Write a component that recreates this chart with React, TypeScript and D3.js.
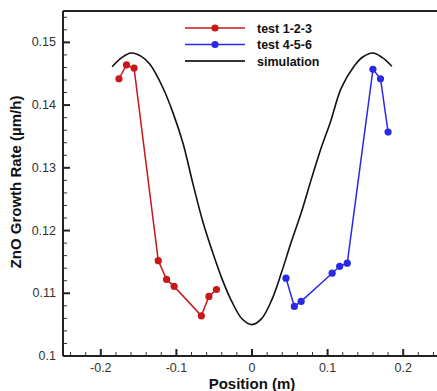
import * as d3 from "d3";

const width = 437;
const height = 391;
const margin = { left: 63, top: 11, right: -4, bottom: 35 };

// test 1-2-3 (red)
const redX = [-0.176, -0.166, -0.156, -0.124, -0.113, -0.103, -0.067, -0.057, -0.047];
const redY = [0.1442, 0.1464, 0.1459, 0.1152, 0.1122, 0.1111, 0.1064, 0.1095, 0.1106];

// test 4-5-6 (blue)
const blueX = [0.045, 0.056, 0.065, 0.106, 0.116, 0.126, 0.160, 0.170, 0.180];
const blueY = [0.1124, 0.1079, 0.1087, 0.1132, 0.1143, 0.1148, 0.1457, 0.1442, 0.1357];

// simulation (black)
const simX = [-0.185, -0.172, -0.16, -0.147, -0.135, -0.118, -0.104, -0.091, -0.078, -0.065, -0.052, -0.039, -0.026, -0.013, 0,
  0.013, 0.026, 0.039, 0.052, 0.065, 0.078, 0.091, 0.104, 0.118, 0.135, 0.147, 0.16, 0.172, 0.185];
const simY = [0.1461, 0.1476, 0.1483, 0.1478, 0.1465, 0.1428, 0.1386, 0.1338, 0.1274, 0.1214, 0.1165, 0.1121, 0.1085, 0.1059, 0.1050,
  0.1060, 0.1089, 0.1133, 0.1182, 0.1228, 0.128, 0.133, 0.1374, 0.1427, 0.1462, 0.1477, 0.1483, 0.1476, 0.1462];

const xTicks = [-0.2, -0.1, 0, 0.1, 0.2];
const xTickLabels = ["-0.2", "-0.1", "0", "0.1", "0.2"];
const yTicks = [0.1, 0.11, 0.12, 0.13, 0.14, 0.15];
const yTickLabels = ["0.1", "0.11", "0.12", "0.13", "0.14", "0.15"];

const legendNames = ["test 1-2-3", "test 4-5-6", "simulation"];
const legendColors = ["#c81818", "#2a2ae6", "#111111"];

export default function App() {
  const x = d3.scaleLinear().domain([-0.25, 0.25]).range([margin.left, width - margin.right]);
  const y = d3.scaleLinear().domain([0.1, 0.155]).range([height - margin.bottom, margin.top]);

  const line = d3.line<[number, number]>().x((d) => x(d[0])).y((d) => y(d[1]));
  const smooth = d3.line<[number, number]>().x((d) => x(d[0])).y((d) => y(d[1])).curve(d3.curveCatmullRom);

  const red: [number, number][] = redX.map((v, i) => [v, redY[i]]);
  const blue: [number, number][] = blueX.map((v, i) => [v, blueY[i]]);
  const sim: [number, number][] = simX.map((v, i) => [v, simY[i]]);

  const xMinor = d3.range(-0.24, 0.2401, 0.02).filter((v) => Math.abs(Math.round(v * 10) - v * 10) > 1e-6);
  const yMinor = d3.range(0.1, 0.1551, 0.002).filter((v) => Math.abs(Math.round(v * 100) - v * 100) > 1e-6);

  const y0 = height - margin.bottom;
  const font = "Liberation Sans, Arial, sans-serif";

  return (
    <svg width={width} height={height} style={{ position: "absolute", left: 0, top: 0, background: "#fff" }}>
      {/* simulation */}
      <path d={smooth(sim) || ""} fill="none" stroke="#111" strokeWidth={1.6} />

      {/* red series */}
      <path d={line(red) || ""} fill="none" stroke={legendColors[0]} strokeWidth={1.5} />
      {red.map((d, i) => (
        <circle key={"r" + i} cx={x(d[0])} cy={y(d[1])} r={3.6} fill={legendColors[0]} />
      ))}

      {/* blue series */}
      <path d={line(blue) || ""} fill="none" stroke={legendColors[1]} strokeWidth={1.5} />
      {blue.map((d, i) => (
        <circle key={"b" + i} cx={x(d[0])} cy={y(d[1])} r={3.6} fill={legendColors[1]} />
      ))}

      {/* frame */}
      <line x1={margin.left} x2={width} y1={margin.top} y2={margin.top} stroke="#222" strokeWidth={2} />
      <line x1={margin.left} x2={margin.left} y1={margin.top} y2={y0} stroke="#222" strokeWidth={2} />
      <line x1={margin.left} x2={width} y1={y0} y2={y0} stroke="#222" strokeWidth={2} />

      {/* x ticks */}
      {xTicks.map((t, i) => (
        <g key={"xt" + i}>
          <line x1={x(t)} x2={x(t)} y1={y0} y2={y0 - 7} stroke="#222" strokeWidth={2} />
          <text x={x(t)} y={y0 + 16} textAnchor="middle" fontSize={12.5} fontFamily={font} fill="#333">
            {xTickLabels[i]}
          </text>
        </g>
      ))}
      {xMinor.map((t, i) => (
        <line key={"xm" + i} x1={x(t)} x2={x(t)} y1={y0} y2={y0 - 4} stroke="#333" strokeWidth={1} />
      ))}

      {/* y ticks */}
      {yTicks.map((t, i) => (
        <g key={"yt" + i}>
          <line x1={margin.left} x2={margin.left + 7} y1={y(t)} y2={y(t)} stroke="#222" strokeWidth={2} />
          <text x={margin.left - 7} y={y(t) + 4} textAnchor="end" fontSize={12.5} fontFamily={font} fill="#333">
            {yTickLabels[i]}
          </text>
        </g>
      ))}
      {yMinor.map((t, i) => (
        <line key={"ym" + i} x1={margin.left} x2={margin.left + 4} y1={y(t)} y2={y(t)} stroke="#333" strokeWidth={1} />
      ))}

      {/* axis titles */}
      <text x={252} y={389} textAnchor="middle" fontSize={15} fontWeight="bold" fontFamily={font} fill="#111">
        Position (m)
      </text>
      <text
        transform={`translate(21, ${182}) rotate(-90)`}
        textAnchor="middle"
        fontSize={15}
        fontWeight="bold"
        fontFamily={font}
        fill="#111"
      >
        ZnO Growth Rate (µm/h)
      </text>

      {/* legend */}
      {legendNames.map((name, i) => {
        const ly = 28 + i * 16.5;
        return (
          <g key={"lg" + i}>
            <line x1={185} x2={245} y1={ly} y2={ly} stroke={i === 2 ? "#333" : legendColors[i]} strokeWidth={i === 2 ? 2.2 : 1.5} />
            {i < 2 && <circle cx={215} cy={ly} r={3.6} fill={legendColors[i]} />}
            <text x={257} y={ly + 4.5} fontSize={12.5} fontWeight="bold" fontFamily={font} fill="#111">
              {name}
            </text>
          </g>
        );
      })}
    </svg>
  );
}
